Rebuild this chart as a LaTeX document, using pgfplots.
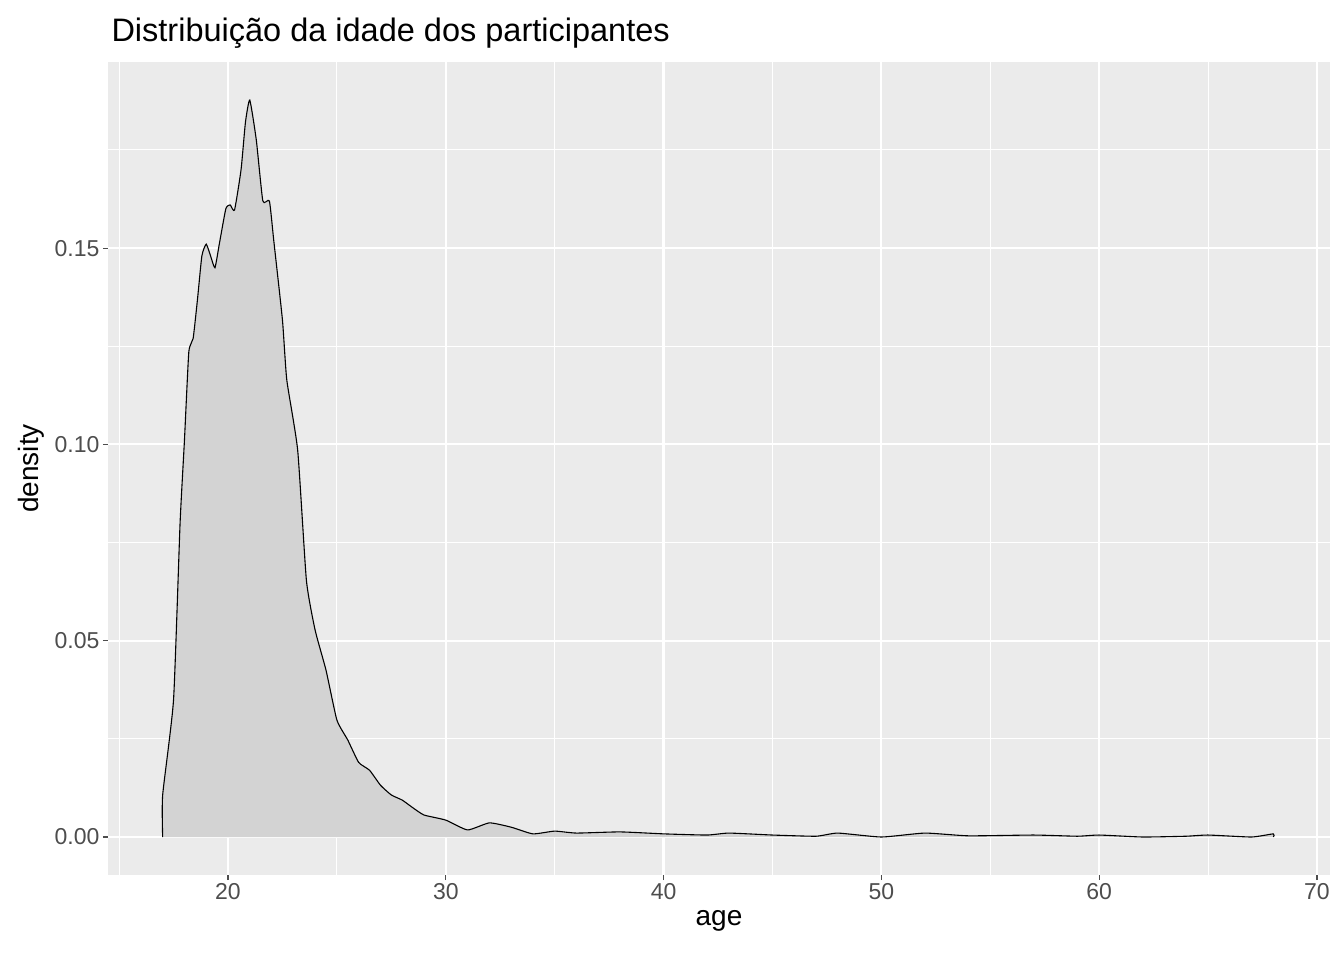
\documentclass[border=0pt]{standalone}
\usepackage{pgfplots}
\pgfplotsset{compat=1.18}
\usepackage{fontspec}
\setmainfont{Liberation Sans}
\definecolor{panel}{HTML}{EBEBEB}
\definecolor{fillg}{HTML}{D3D3D3}
\definecolor{tickc}{HTML}{4D4D4D}
\begin{document}
\begin{tikzpicture}
\useasboundingbox (0,0) rectangle (1344pt,-960pt);
\begin{axis}[
  at={(108pt,-875pt)}, anchor=south west,
  scale only axis, width=1222pt, height=813pt,
  xmin=14.49, xmax=70.6, ymin=-0.00968, ymax=0.1974,
  axis background/.style={fill=panel},
  axis line style={draw=none},
  xtick={20,30,...,70}, ytick={0,0.05,0.1,0.15},
  minor xtick={15,25,...,65}, minor ytick={0.025,0.075,0.125,0.175},
  grid=both,
  major grid style={white,line width=2.2pt},
  minor grid style={white,line width=1.1pt},
  tick style={tickc,line width=1.1pt},
  major tick length=5pt, minor tick length=0pt,
  tick align=outside, xtick pos=bottom, ytick pos=left,
  ticklabel style={font=\fontsize{23}{27}\selectfont, text=tickc},
  /pgf/number format/assume math mode=true,
  yticklabel style={/pgf/number format/.cd,fixed,fixed zerofill,precision=2},
  xticklabel style={/pgf/number format/.cd,fixed,precision=0},
  scaled y ticks=false,
  xlabel={age}, ylabel={density},
  label style={font=\fontsize{28}{32}\selectfont},
  xlabel style={yshift=-4pt}, ylabel style={yshift=4pt},
  title={Distribuição da idade dos participantes},
  title style={font=\fontsize{32.5}{38}\selectfont, at={(0,1)}, anchor=south west, yshift=4pt},
]
\addplot[draw=black, line width=1.1pt, fill=fillg, smooth, tension=0.3] table {
x y
17 0
17 0.0107
17.5 0.035
17.8 0.08
18 0.101
18.2 0.1235
18.4 0.127
18.6 0.137
18.8 0.148
19.0 0.151
19.2 0.148
19.4 0.145
19.6 0.151
19.9 0.160
20.1 0.161
20.3 0.1597
20.6 0.170
20.8 0.182
21.0 0.1877
21.3 0.1775
21.6 0.162
21.9 0.162
22.1 0.152
22.5 0.1317
22.7 0.1164
23.2 0.0985
23.6 0.0654
24 0.0527
24.5 0.0425
25 0.0298
25.5 0.0247
26 0.019
26.5 0.017
27 0.0132
27.5 0.0107
28 0.0094
28.5 0.0074
29 0.0056
30 0.0043
31 0.0018
32 0.0036
33 0.0025
34 0.0008
35 0.0015
36 0.001
38 0.0013
40 0.0008
42 0.0005
43 0.001
45 0.0005
47 0.0002
48 0.001
50 0.0
52 0.001
54 0.0003
57 0.0005
59 0.0002
60 0.0005
62 0.0
64 0.0002
65 0.0005
67 0.0
68 0.0008
68 0
};
\end{axis}
\end{tikzpicture}
\end{document}
